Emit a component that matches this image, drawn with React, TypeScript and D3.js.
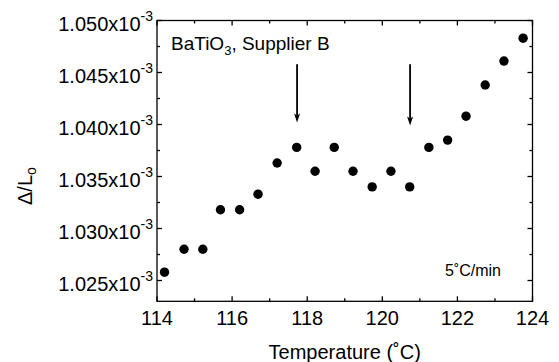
import React from "react";
import * as d3 from "d3";

const temperature = [114.2, 114.72, 115.22, 115.69, 116.2, 116.69, 117.2, 117.72, 118.21, 118.72, 119.22, 119.73, 120.23, 120.73, 121.24, 121.74, 122.23, 122.74, 123.24, 123.75];
const strain = [1.0258, 1.028, 1.028, 1.0318, 1.0318, 1.0333, 1.0363, 1.0378, 1.0355, 1.0378, 1.0355, 1.034, 1.0355, 1.034, 1.0378, 1.0385, 1.0408, 1.0438, 1.0461, 1.0483];

const xTicks = [114, 116, 118, 120, 122, 124];
const xMinor = [115, 117, 119, 121, 123];
const yTicks = [1.025, 1.03, 1.035, 1.04, 1.045, 1.05];
const yTickLabels = ["1.025", "1.030", "1.035", "1.040", "1.045", "1.050"];
const yMinor = [1.0275, 1.0325, 1.0375, 1.0425, 1.0475];

const arrowX = [117.73, 120.74];
const arrowTop = [1.0458, 1.0458];
const arrowTip = [1.0402, 1.0399];

const W = 559, H = 362;
const L = 157, R = 532.5, T = 20.5, B = 301.3;

export default function App() {
  const x = d3.scaleLinear().domain([114, 124]).range([L, R]);
  const y = d3.scaleLinear().domain([1.023, 1.050]).range([B, T]);
  const font = "Arial, 'Liberation Sans', sans-serif";
  const majorLen = 5, minorLen = 3;
  const sw = 1.3;
  const headLen = 9, headHalf = 3;
  return (
    <svg width={W} height={H} style={{ position: "absolute", left: 0, top: 0, background: "#fff" }} fontFamily={font}>
      <rect x={L} y={T} width={R - L} height={B - T} fill="none" stroke="#000" strokeWidth={sw} />
      {xTicks.map((t) => (
        <g key={"xt" + t}>
          <line x1={x(t)} x2={x(t)} y1={B} y2={B - majorLen} stroke="#000" strokeWidth={sw} />
          <line x1={x(t)} x2={x(t)} y1={T} y2={T + majorLen} stroke="#000" strokeWidth={sw} />
          <text x={x(t)} y={325} fontSize={20} textAnchor="middle">{t}</text>
        </g>
      ))}
      {xMinor.map((t) => (
        <g key={"xm" + t}>
          <line x1={x(t)} x2={x(t)} y1={B} y2={B - minorLen} stroke="#000" strokeWidth={sw} />
          <line x1={x(t)} x2={x(t)} y1={T} y2={T + minorLen} stroke="#000" strokeWidth={sw} />
        </g>
      ))}
      {yTicks.map((t, i) => (
        <g key={"yt" + t}>
          <line x1={L} x2={L + majorLen} y1={y(t)} y2={y(t)} stroke="#000" strokeWidth={sw} />
          <line x1={R} x2={R - majorLen} y1={y(t)} y2={y(t)} stroke="#000" strokeWidth={sw} />
          <text x={153} y={y(t) + 10.2} fontSize={20} textAnchor="end">
            {yTickLabels[i]}x10<tspan fontSize={14} dy={-9.7}>-3</tspan>
          </text>
        </g>
      ))}
      {yMinor.map((t) => (
        <g key={"ym" + t}>
          <line x1={L} x2={L + minorLen} y1={y(t)} y2={y(t)} stroke="#000" strokeWidth={sw} />
          <line x1={R} x2={R - minorLen} y1={y(t)} y2={y(t)} stroke="#000" strokeWidth={sw} />
        </g>
      ))}
      {temperature.map((t, i) => (
        <circle key={"p" + i} cx={x(t)} cy={y(strain[i])} r={4.7} fill="#000" />
      ))}
      {arrowX.map((a, i) => {
        const ax = x(a), tip = y(arrowTip[i]);
        return (
          <g key={"a" + i}>
            <line x1={ax} x2={ax} y1={y(arrowTop[i])} y2={tip - headLen + 2} stroke="#000" strokeWidth={1.8} />
            <path d={`M${ax - headHalf},${tip - headLen} L${ax},${tip} L${ax + headHalf},${tip - headLen} L${ax},${tip - headLen + 2} Z`} fill="#000" />
          </g>
        );
      })}
      <text x={171} y={50} fontSize={19}>
        BaTiO<tspan fontSize={13} dy={5}>3</tspan><tspan dy={-5}>, Supplier B</tspan>
      </text>
      <text x={445} y={275.5} fontSize={16}>5˚C/min</text>
      <text x={344.7} y={359} fontSize={20} textAnchor="middle">Temperature (˚C)</text>
      <text transform="translate(32,205) rotate(-90)" fontSize={20}>
        Δ/L<tspan fontSize={14} dy={4}>o</tspan>
      </text>
    </svg>
  );
}
